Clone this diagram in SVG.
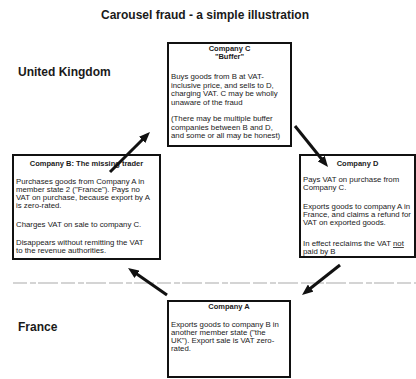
<svg xmlns="http://www.w3.org/2000/svg" width="416" height="379" viewBox="0 0 416 379">
<defs>
<marker id="ah" markerUnits="userSpaceOnUse" markerWidth="11" markerHeight="9" refX="3" refY="4.5" orient="auto">
<path d="M0,0 L11,4.5 L0,9 z" fill="#111"/>
</marker>
<style>
.box{fill:#fff;stroke:#111;stroke-width:2}
.t{font-family:"Liberation Sans",Arial,sans-serif;fill:#1a1a1a}
.h{font-size:7.5px;font-weight:bold;text-anchor:middle}
.b{font-size:7.8px}
.lbl{font-size:12px;font-weight:bold}
.title{font-size:12px;font-weight:bold;text-anchor:middle}
.arr{stroke:#111;stroke-width:3;fill:none;marker-end:url(#ah)}
</style>
</defs>
<rect width="416" height="379" fill="#fff"/>
<text class="t title" x="205" y="19">Carousel fraud - a simple illustration</text>
<text class="t lbl" x="18" y="76">United Kingdom</text>
<text class="t lbl" x="18" y="331">France</text>
<line x1="13" y1="283" x2="416" y2="283" stroke="#d4d4d4" stroke-width="2" stroke-dasharray="14 3 6 2 20 3"/>
<g id="nodeC">
<rect class="box" x="168" y="43" width="123" height="103"/>
<text class="t h" x="229.5" y="51">Company C</text>
<text class="t h" x="229.5" y="59">"Buffer"</text>
<text class="t b" x="171" y="79">Buys goods from B at VAT-</text>
<text class="t b" x="171" y="87.5">inclusive price, and sells to D,</text>
<text class="t b" x="171" y="96">charging VAT.  C may be wholly</text>
<text class="t b" x="171" y="104.5">unaware of the fraud</text>
<text class="t b" x="171" y="121">(There may be multiple buffer</text>
<text class="t b" x="171" y="129.5">companies between B and D,</text>
<text class="t b" x="171" y="138">and some or all may be honest)</text>
</g>
<g id="nodeB">
<rect class="box" x="13" y="155" width="147" height="104"/>
<text class="t h" x="86.5" y="165.5">Company B: The missing trader</text>
<text class="t b" x="16" y="184">Purchases goods from Company A in</text>
<text class="t b" x="16" y="192">member state 2 ("France").  Pays no</text>
<text class="t b" x="16" y="200">VAT on purchase, because export by A</text>
<text class="t b" x="16" y="208">is zero-rated.</text>
<text class="t b" x="16" y="227">Charges VAT on sale to company C.</text>
<text class="t b" x="16" y="245">Disappears without remitting the VAT</text>
<text class="t b" x="16" y="253">to the revenue authorities.</text>
</g>
<g id="nodeD">
<rect class="box" x="300" y="155" width="115" height="102"/>
<text class="t h" x="357.5" y="166">Company D</text>
<text class="t b" x="303" y="182">Pays VAT on purchase from</text>
<text class="t b" x="303" y="190">Company C.</text>
<text class="t b" x="303" y="209">Exports goods to company A in</text>
<text class="t b" x="303" y="217">France, and claims a refund for</text>
<text class="t b" x="303" y="225">VAT on exported goods.</text>
<text class="t b" x="303" y="246">In effect reclaims the VAT <tspan text-decoration="underline">not</tspan></text>
<text class="t b" x="303" y="254">paid by B</text>
</g>
<g id="nodeA">
<rect class="box" x="168" y="301" width="122" height="76"/>
<text class="t h" x="229" y="309">Company A</text>
<text class="t b" x="171" y="327">Exports goods to company B in</text>
<text class="t b" x="171" y="335">another member state ("the</text>
<text class="t b" x="171" y="343">UK").  Export sale is VAT zero-</text>
<text class="t b" x="171" y="351">rated.</text>
</g>
<g id="connectors">
<line class="arr" x1="167" y1="295" x2="134.6" y2="272.6"/>
<line class="arr" x1="110" y1="172" x2="144.3" y2="137.7"/>
<line class="arr" x1="295" y1="126" x2="323" y2="160.8"/>
<line class="arr" x1="340" y1="265" x2="308.3" y2="290"/>
</g>
</svg>
